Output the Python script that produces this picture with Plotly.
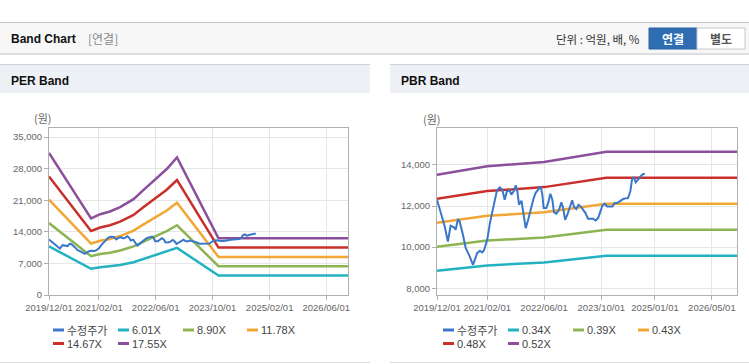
import plotly.graph_objects as go

# ---------------- data ----------------
price_dates = ["2019-12-01","2019-12-24","2020-02-05","2020-03-03","2020-03-26","2020-04-21","2020-05-08",
               "2020-05-28","2020-06-11","2020-07-09","2020-08-02","2020-08-30","2020-10-03","2020-10-23",
               "2020-11-07","2020-11-30","2020-12-22","2021-01-06","2021-02-01","2021-02-24","2021-03-13",
               "2021-04-05","2021-04-25","2021-05-18","2021-06-10","2021-06-30","2021-07-19","2021-08-11",
               "2021-08-26","2021-09-15","2021-10-02","2021-10-16","2021-10-30","2021-11-20","2021-12-09",
               "2021-12-26","2022-01-16","2022-02-05","2022-02-28","2022-03-20","2022-04-12","2022-05-02",
               "2022-05-16","2022-05-28","2022-06-20","2022-07-09","2022-07-24","2022-08-10","2022-08-24",
               "2022-09-14","2022-10-06","2022-10-26","2022-11-10","2022-11-27","2022-12-16","2023-01-06",
               "2023-01-26","2023-02-12","2023-03-02","2023-03-22","2023-04-14","2023-05-03","2023-05-20",
               "2023-06-10","2023-06-30","2023-07-22","2023-08-14","2023-09-04","2023-09-24","2023-10-10",
               "2023-10-30","2023-11-19","2023-12-12","2024-01-04","2024-01-24","2024-02-13","2024-03-06",
               "2024-04-04","2024-04-27","2024-05-16","2024-06-05","2024-06-19","2024-07-04","2024-07-21",
               "2024-08-10","2024-08-30","2024-09-22","2024-10-06"]
price_values = [12309,11821,11008,10276,11040,10976,10846,11366,11252,10602,9951,9626,9138,9463,
                9707,9821,9740,9870,10358,11171,11659,12146,12764,12910,12797,12309,12715,12764,
                12553,12715,13008,12715,12065,12260,11659,10927,11333,11821,12309,12634,12797,12959,
                12602,11902,11902,12228,12602,12309,11691,11626,11821,12179,11902,11333,11577,11902,
                12276,11951,11854,12065,11951,11789,11659,11382,11382,11382,11301,11415,11740,12016,
                12114,11984,11984,11984,12146,12146,12228,12341,12374,12390,12715,13285,13415,13154,
                13285,13447,13561,13561]

per_dates = ["2019-12-01","2020-11-25","2021-02-12","2021-05-06","2021-08-01","2021-11-24","2022-02-18",
             "2022-05-30","2022-09-04","2022-12-01","2023-11-21","2026-12-31"]
per_eps = [1792, 968, 1020, 1054, 1109, 1210, 1328, 1463, 1590, 1737, 717, 717]
per_multiples = [6.01, 8.895, 11.78, 14.665, 17.55]
per_labels = ["6.01X", "8.90X", "11.78X", "14.67X", "17.55X"]

pbr_dates = ["2019-12-01","2021-02-01","2022-06-01","2023-10-01","2023-11-13","2026-12-31"]
pbr_bps = [26015, 26798, 27204, 28049, 28170, 28170]
pbr_multiples = [0.34, 0.385, 0.43, 0.475, 0.52]
pbr_labels = ["0.34X", "0.39X", "0.43X", "0.48X", "0.52X"]

price_label = "수정주가"
band_colors = ["#22B2C1", "#8CB452", "#F2A634", "#C9302C", "#8B4F9C"]
price_color = "#3A77C8"

per_xtick_vals = ["2019-12-01","2021-02-01","2022-06-01","2023-10-01","2025-02-01","2026-06-01"]
pbr_xtick_vals = ["2019-12-01","2021-02-01","2022-06-01","2023-10-01","2025-01-01","2026-05-01"]
per_ytick_vals = [0, 7000, 14000, 21000, 28000, 35000]
pbr_ytick_vals = [8000, 10000, 12000, 14000]

# ---------------- figure ----------------
W, H = 749, 364
def px(x): return x / W
def py(y): return 1 - y / H

FONT = "Liberation Sans, Arial, Noto Sans CJK KR, sans-serif"
KFONT = "Noto Sans CJK KR, Liberation Sans, sans-serif"

fig = go.Figure()

for i, m in enumerate(per_multiples):
    fig.add_trace(go.Scatter(x=per_dates, y=[e * m for e in per_eps], mode="lines",
                             line=dict(color=band_colors[i], width=2.5), name=per_labels[i],
                             xaxis="x", yaxis="y", showlegend=False, hoverinfo="skip"))
fig.add_trace(go.Scatter(x=price_dates, y=price_values, mode="lines",
                         line=dict(color=price_color, width=2), name=price_label,
                         xaxis="x", yaxis="y", showlegend=False))

for i, m in enumerate(pbr_multiples):
    fig.add_trace(go.Scatter(x=pbr_dates, y=[b * m for b in pbr_bps], mode="lines",
                             line=dict(color=band_colors[i], width=2.5), name=pbr_labels[i],
                             xaxis="x2", yaxis="y2", showlegend=False, hoverinfo="skip"))
fig.add_trace(go.Scatter(x=price_dates, y=price_values, mode="lines",
                         line=dict(color=price_color, width=2), name=price_label,
                         xaxis="x2", yaxis="y2", showlegend=False))

axis_common = dict(showgrid=True, gridcolor="#e6e6e6", gridwidth=1, showline=True, linecolor="#b0b0b0",
                   linewidth=1, mirror=True, ticks="outside", ticklen=4, tickcolor="#b0b0b0",
                   tickfont=dict(family=FONT, size=9.5, color="#666666"), zeroline=False,
                   fixedrange=True, automargin=False)

fig.update_layout(
    width=W, height=H, margin=dict(l=0, r=0, t=0, b=0, pad=0, autoexpand=False), autosize=False,
    paper_bgcolor="white", plot_bgcolor="white", showlegend=False,
    xaxis=dict(domain=[px(49), px(348)], type="date", range=["2019-12-01", "2026-12-04"],
               tickvals=per_xtick_vals, ticktext=[d.replace("-", "/") for d in per_xtick_vals],
               tickangle=0, anchor="y", **axis_common),
    yaxis=dict(domain=[py(295), py(128)], range=[0, 37000], tickvals=per_ytick_vals,
               tickformat=",d", anchor="x", **axis_common),
    xaxis2=dict(domain=[px(437), px(737)], type="date", range=["2019-12-01", "2026-12-01"],
                tickvals=pbr_xtick_vals, ticktext=[d.replace("-", "/") for d in pbr_xtick_vals],
                tickangle=0, anchor="y2", **axis_common),
    yaxis2=dict(domain=[py(295), py(128)], range=[7670, 15800], tickvals=pbr_ytick_vals,
                tickformat=",d", anchor="x2", **axis_common),
)

shapes = []
def rect(x0, y0, x1, y1, fill, line=None, lw=0):
    shapes.append(dict(type="rect", xref="paper", yref="paper", x0=px(x0), x1=px(x1), y0=py(y1), y1=py(y0),
                       fillcolor=fill, line=dict(color=line or fill, width=lw), layer="below"))
def hline(x0, x1, y, color, w=1):
    shapes.append(dict(type="line", xref="paper", yref="paper", x0=px(x0), x1=px(x1), y0=py(y), y1=py(y),
                       line=dict(color=color, width=w), layer="below"))

# header bar
rect(0, 22, 749, 54, "#f7f7f7")
hline(0, 749, 22.5, "#c8c8c8")
hline(0, 749, 54, "#dedede", 2)
# buttons
rect(649, 28, 697, 49, "#2F6DB3", "#2A63A3", 1)
rect(697, 28, 745, 49, "#ffffff", "#c8c8c8", 1)
# panel headers
rect(0, 64, 370, 93, "#EDF1F6")
rect(390, 64, 749, 93, "#EDF1F6")
hline(0, 370, 64.5, "#d0d0d0")
hline(390, 749, 64.5, "#d0d0d0")
# panel bottoms
hline(0, 370, 362.5, "#dddddd")
hline(390, 749, 362.5, "#dddddd")

annotations = []
def text(x, y, s, size=12, color="#333", anchor="left", family=FONT):
    annotations.append(dict(xref="paper", yref="paper", x=px(x), y=py(y), text=s, showarrow=False,
                            xanchor=anchor, yanchor="middle", borderpad=0,
                            font=dict(family=family, size=size, color=color)))

text(10, 39, "<b>Band Chart</b>", 12, "#111")
text(87, 39, "[연결]", 12, "#8a8a8a", family=KFONT)
text(641, 39, "단위 : 억원, 배, %", 11.5, "#333", anchor="right", family=KFONT)
text(673, 38.5, "<b>연결</b>", 12, "#ffffff", anchor="center", family=KFONT)
text(721, 38.5, "<b>별도</b>", 12, "#555555", anchor="center", family=KFONT)
text(10, 80.5, "<b>PER Band</b>", 12, "#111")
text(400, 80.5, "<b>PBR Band</b>", 12, "#111")
text(43, 118, "(원)", 11, "#666", anchor="center", family=KFONT)
text(432, 119, "(원)", 11, "#666", anchor="center", family=KFONT)

def legend(positions, labels, colors):
    for (x0, y), lab, col in zip(positions, labels, colors):
        shapes.append(dict(type="line", xref="paper", yref="paper", x0=px(x0), x1=px(x0 + 11),
                           y0=py(y), y1=py(y), line=dict(color=col, width=3)))
        text(x0 + 13, y, lab, 11, "#444", family=KFONT if lab == price_label else FONT)

per_leg_pos = [(53, 330), (118, 330), (183, 330), (247, 330), (53, 343.5), (118, 343.5)]
pbr_leg_pos = [(443, 330), (508, 330), (573, 330), (638, 330), (443, 343.5), (508, 343.5)]
legend(per_leg_pos, [price_label] + per_labels, [price_color] + band_colors)
legend(pbr_leg_pos, [price_label] + pbr_labels, [price_color] + band_colors)

fig.update_layout(shapes=shapes, annotations=annotations)

post = ("document.documentElement.style.margin='0';document.documentElement.style.overflow='hidden';"
        "document.body.style.margin='0';document.body.style.padding='0';document.body.style.overflow='hidden';"
        "var d=document.getElementById('{plot_id}');d.style.position='absolute';d.style.left='0px';"
        "d.style.top='0px';")
fig.write_html("out.html", config={"displayModeBar": False, "responsive": False}, post_script=post)
